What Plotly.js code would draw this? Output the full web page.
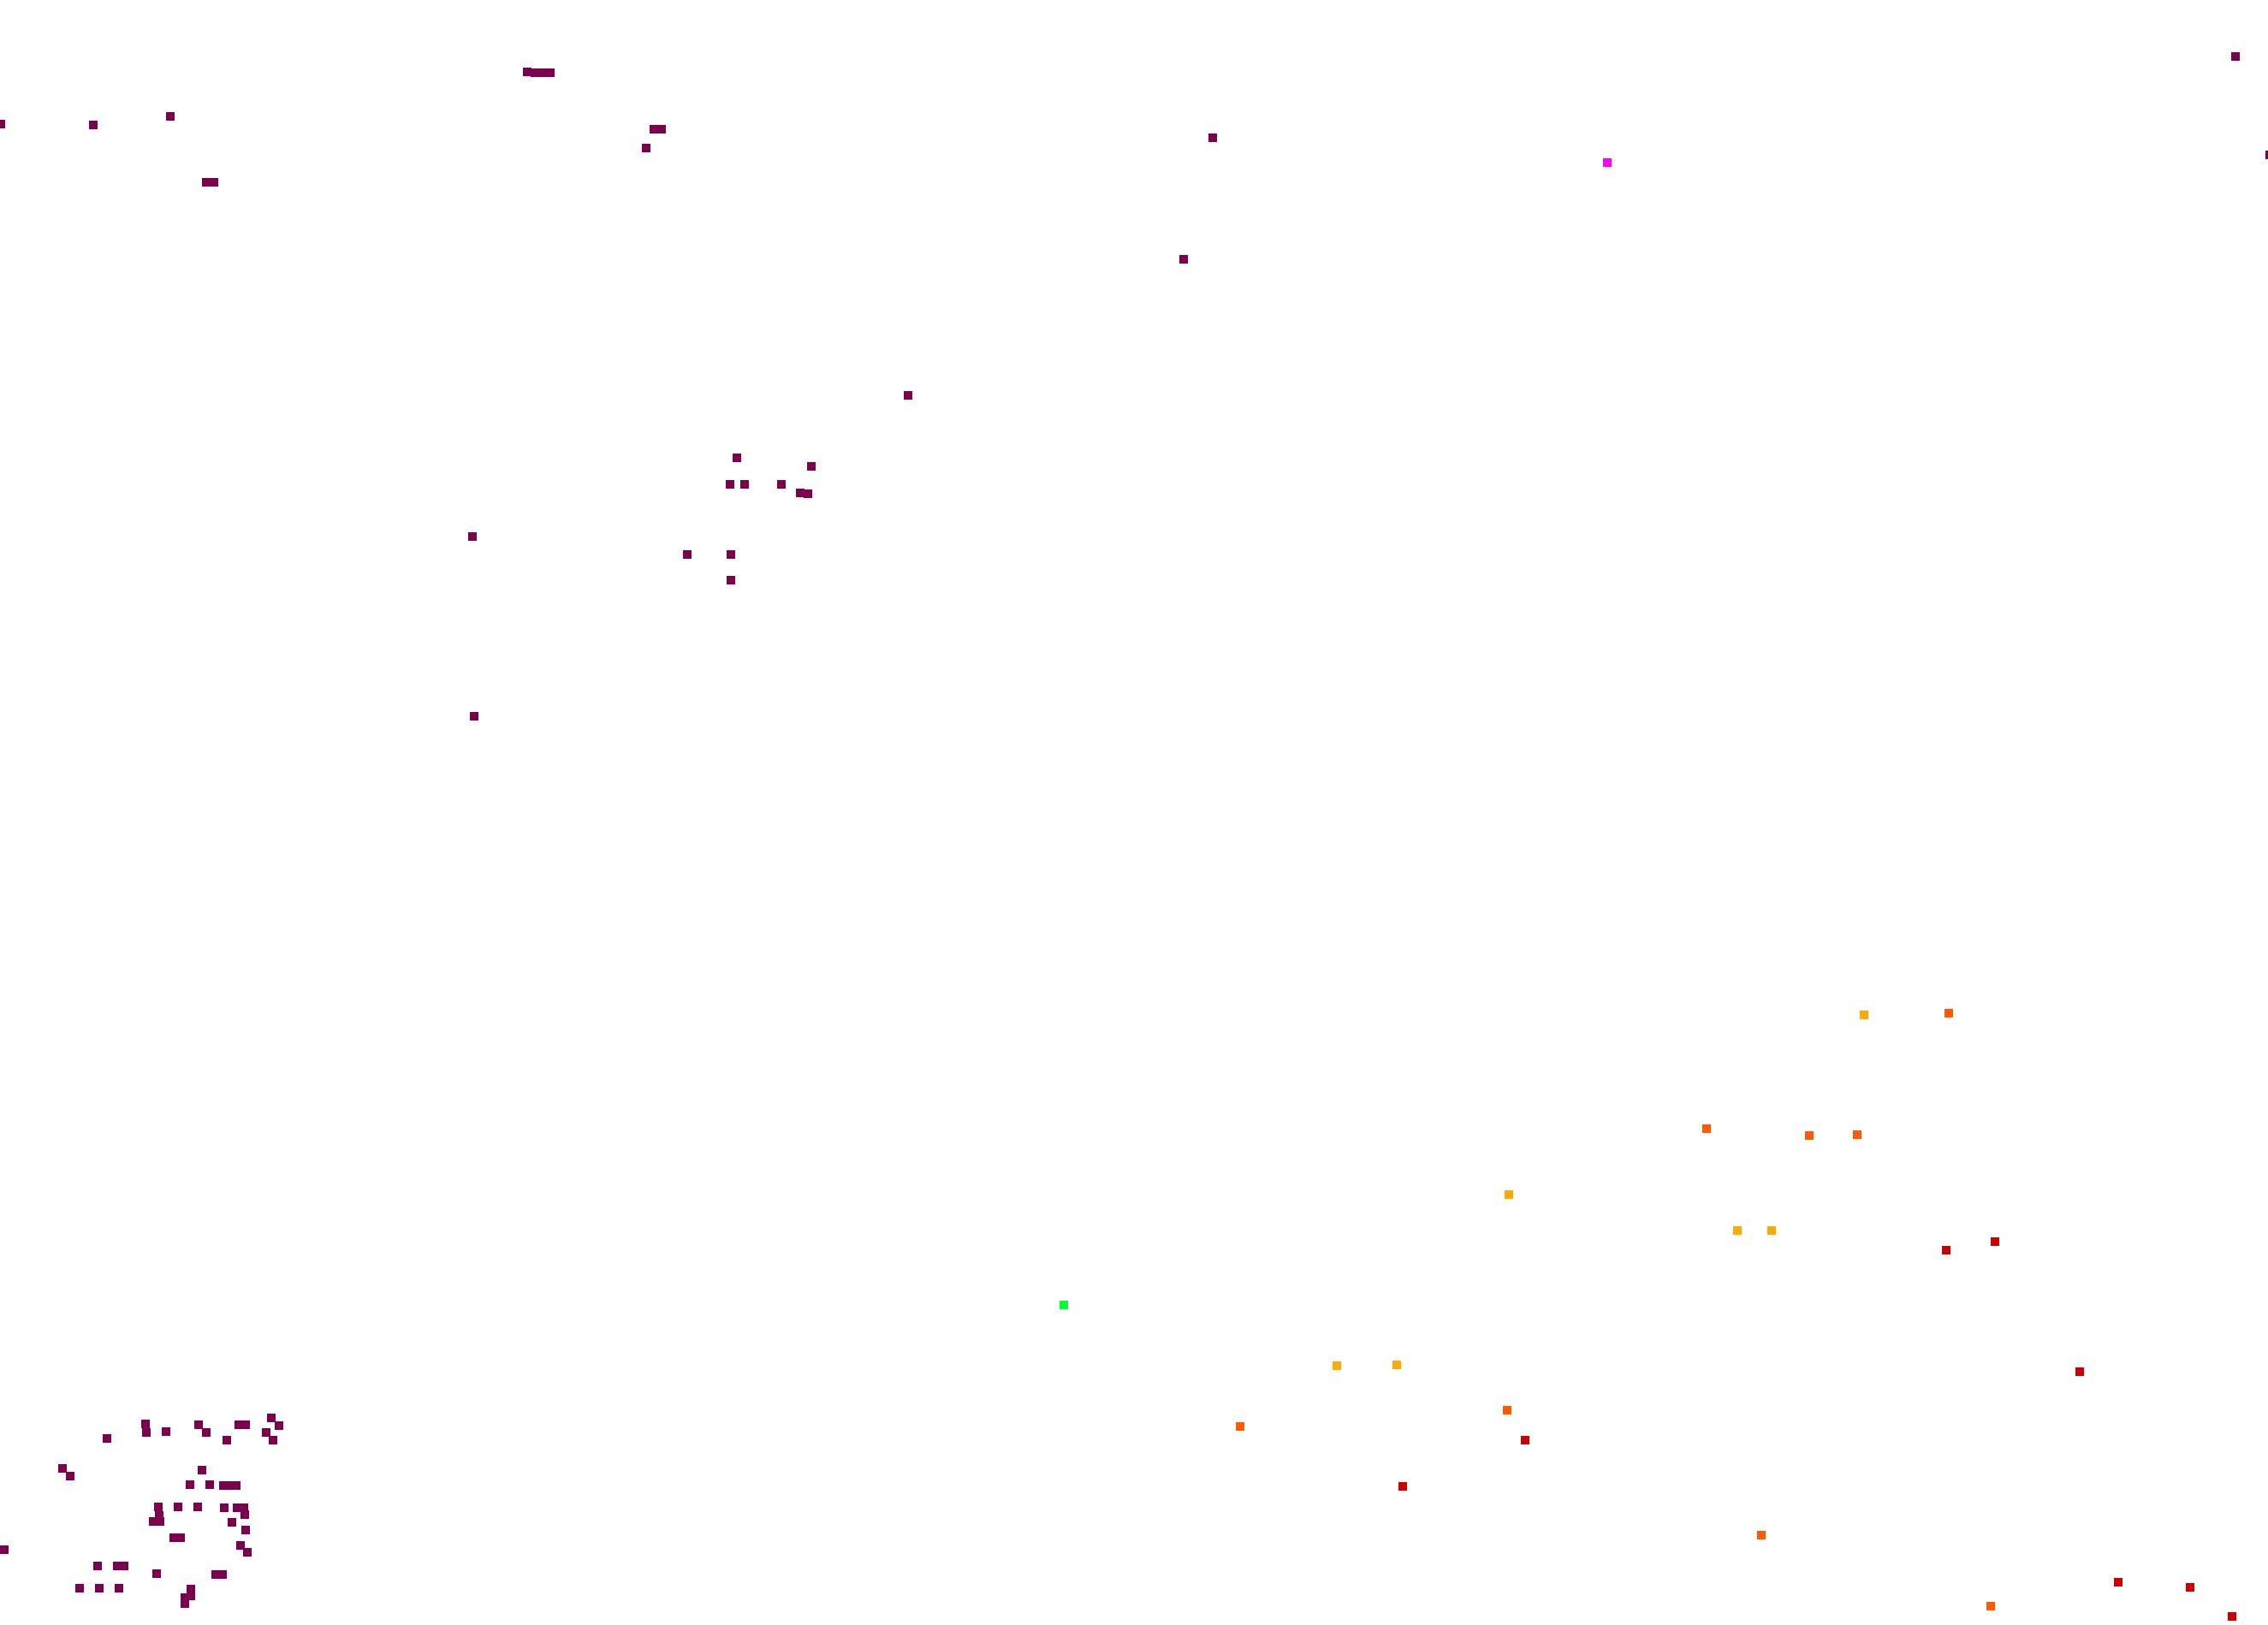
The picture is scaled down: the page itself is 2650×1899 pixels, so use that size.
<!DOCTYPE html>
<html>
<head>
<meta charset="utf-8">
<script src="https://cdn.plot.ly/plotly-3.0.1.min.js"></script>
<style>html,body{margin:0;padding:0;background:#fff;}#chart{width:2650px;height:1899px;}</style>
</head>
<body>
<div id="chart"></div>
<script>
// Values (chart coordinates, origin top-left)
var purpleX = [1,109,199,241,250,616,625,634,643,764,773,755,1417,1383,1061,861,948,853,870,913,935,944,552,803,854,854,554,2612,2652,
  317,326,170,171,194,232,241,279,287,311,319,265,125,73,82,236,222,245,261,268,276,185,208,231,262,277,285,286,271,287,186,179,187,203,211,281,289,5,114,137,145,183,252,260,93,116,139,223,223,216,216];
var purpleY = [145,146,136,213,213,84,85,85,85,151,151,173,161,303,462,535,545,566,566,566,576,577,627,648,648,678,837,66,181,
  1657,1666,1664,1674,1673,1665,1674,1665,1665,1674,1683,1683,1681,1716,1725,1718,1735,1735,1736,1736,1736,1761,1761,1761,1762,1762,1762,1770,1779,1788,1771,1778,1778,1797,1797,1806,1814,1811,1830,1830,1830,1839,1840,1840,1856,1856,1856,1857,1865,1867,1874];

var magentaX = [1878];
var magentaY = [190];

var greenX = [1243];
var greenY = [1525];

var yellowX = [2178,1763,2030,2070,1562,1632];
var yellowY = [1186,1396,1438,1438,1596,1595];

var orangeX = [2277,1994,2114,2170,1761,2058,2326,1449];
var orangeY = [1184,1319,1327,1326,1648,1794,1877,1667];

var redX = [2274,2331,2430,1782,2475,2559,2608,1639];
var redY = [1461,1451,1603,1683,1849,1855,1889,1737];

function grp(x, y, color) {
  return {
    type: 'scatter', mode: 'markers', x: x, y: y, hoverinfo: 'skip',
    marker: {symbol: 'square', size: 10, color: color, line: {width: 0}}
  };
}

var data = [
  grp(purpleX, purpleY, '#7d004f'),
  grp(magentaX, magentaY, '#ff00ff'),
  grp(greenX, greenY, '#00ff33'),
  grp(yellowX, yellowY, '#ffaa00'),
  grp(orangeX, orangeY, '#ff5a00'),
  grp(redX, redY, '#cc0000')
];

var layout = {
  width: 2650, height: 1899,
  margin: {l: 0, r: 0, t: 0, b: 0, pad: 0},
  paper_bgcolor: '#ffffff', plot_bgcolor: '#ffffff',
  showlegend: false,
  xaxis: {range: [0, 2650], visible: false, fixedrange: true},
  yaxis: {range: [1899, 0], visible: false, fixedrange: true}
};

Plotly.newPlot('chart', data, layout, {displayModeBar: false, staticPlot: true});
</script>
</body>
</html>
